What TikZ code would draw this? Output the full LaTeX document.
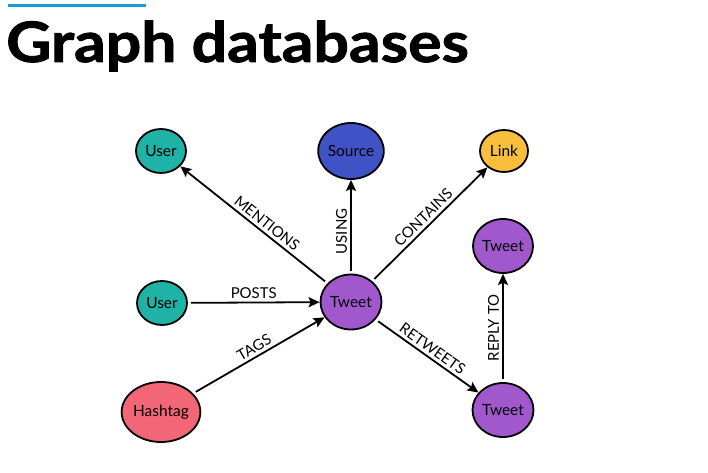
\documentclass[tikz,border=0pt]{standalone}
\usepackage{fontspec}
\setmainfont{Lato}
\newfontfamily\headingfont{Lato}[BoldFont={* Bold}, BoldFeatures={FakeBold=1.6, FakeStretch=1.12}]
\usetikzlibrary{shapes.geometric,arrows.meta}
\definecolor{accent}{HTML}{1A9AD6}
\definecolor{usercol}{HTML}{1FB3A7}
\definecolor{sourcecol}{HTML}{3F53C6}
\definecolor{linkcol}{HTML}{F8BE3C}
\definecolor{tweetcol}{HTML}{A158CC}
\definecolor{hashcol}{HTML}{F36678}
\tikzset{
  ent/.style={ellipse, draw=black, line width=1.8bp, inner sep=0pt,
    font=\fontsize{15.5}{17}\selectfont},
  rel/.style={-{Stealth[length=11bp,width=10bp,inset=2bp]}, line width=1.8bp,
    shorten <=3bp},
  lbl/.style={sloped, above, inner sep=3bp, font=\fontsize{15}{17}\selectfont}
}
\begin{document}
\begin{tikzpicture}[x=1bp,y=-1bp]
  \useasboundingbox (0,0) rectangle (708,473);
  \fill[white] (0,0) rectangle (708,473);
  % heading
  \draw[accent, line width=3bp] (8,6) -- (146,6);
  \node[anchor=base west, inner sep=0pt, font=\headingfont\fontsize{56}{60}\selectfont\bfseries]
    (title) at (6,62) {Graph databases};
  % entities
  \node[ent, fill=usercol, minimum width=50bp, minimum height=44bp] (u1) at (161,151) {User};
  \node[ent, fill=sourcecol, minimum width=64bp, minimum height=56bp] (src) at (351,151) {Source};
  \node[ent, fill=linkcol, minimum width=48bp, minimum height=42bp] (lnk) at (504,151) {Link};
  \node[ent, fill=tweetcol, minimum width=60bp, minimum height=54bp] (t2) at (503,246) {Tweet};
  \node[ent, fill=usercol, minimum width=50bp, minimum height=44bp] (u2) at (162,303) {User};
  \node[ent, fill=tweetcol, minimum width=61bp, minimum height=55bp] (t1) at (351,302) {Tweet};
  \node[ent, fill=hashcol, minimum width=72bp, minimum height=60bp] (hash) at (161,412) {Hashtag};
  \node[ent, fill=tweetcol, minimum width=61bp, minimum height=54bp] (t3) at (503,410) {Tweet};
  % relationships
  \draw[rel] (t1) -- node[lbl, pos=0.45] {MENTIONS} (u1);
  \draw[rel] (t1) -- node[lbl, pos=0.45] {USING} (src);
  \draw[rel] (t1) -- node[lbl, pos=0.5] {CONTAINS} (lnk);
  \draw[rel] (u2) -- node[lbl, pos=0.5] {POSTS} (t1);
  \draw[rel] (hash) -- node[lbl, pos=0.5] {TAGS} (t1);
  \draw[rel] (t1) -- node[lbl, pos=0.5] {RETWEETS} (t3);
  \draw[rel] (t3) -- node[lbl, pos=0.5] {REPLY TO} (t2);
\end{tikzpicture}
\end{document}
